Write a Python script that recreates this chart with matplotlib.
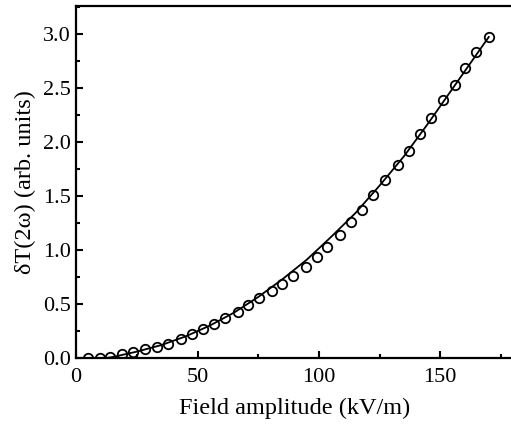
import numpy as np
import matplotlib.pyplot as plt
from matplotlib.ticker import MultipleLocator

# measured points
field = [5, 10, 14, 19, 23.3, 28.5, 33.2, 37.7, 43.3, 47.7, 52.1, 56.8, 61.5,
         66.5, 70.8, 75.3, 80.7, 85, 89.4, 94.5, 99.2, 103.4, 108.6, 113.3,
         117.8, 122.5, 127.3, 132.4, 137.2, 141.6, 146.2, 151.3, 156.1, 160.2,
         164.7, 170]
dT = [0.0, 0.0, 0.015, 0.04, 0.058, 0.08, 0.10, 0.13, 0.18, 0.22, 0.27, 0.32,
      0.37, 0.43, 0.49, 0.555, 0.62, 0.69, 0.76, 0.845, 0.935, 1.03, 1.135,
      1.255, 1.37, 1.51, 1.645, 1.79, 1.92, 2.07, 2.225, 2.39, 2.53, 2.68,
      2.83, 2.97]

# fitted curve
fit_x = [12, 15, 20, 25, 30, 35, 40, 45, 55, 65, 75, 85, 95, 105, 115, 125,
         135, 145, 155, 165, 170]
fit_y = [0.0, 0.01, 0.035, 0.06, 0.09, 0.12, 0.16, 0.20, 0.30, 0.42, 0.565,
         0.73, 0.91, 1.12, 1.34, 1.595, 1.865, 2.17, 2.49, 2.81, 2.97]

plt.rcParams['font.family'] = ['Liberation Serif', 'DejaVu Serif']

fig = plt.figure(figsize=(5.11, 4.32), dpi=100)
ax = fig.add_axes([0.149, 0.171, 0.855, 0.816])

ax.plot(fit_x, fit_y, color='black', lw=1.3)
ax.plot(field, dT, 'o', mfc='none', mec='black', ms=6.8, mew=1.3)

ax.set_xlim(0, 180)
ax.set_ylim(0, 3.26)
ax.xaxis.set_major_locator(MultipleLocator(50))
ax.xaxis.set_minor_locator(MultipleLocator(25))
ax.yaxis.set_major_locator(MultipleLocator(0.5))
ax.yaxis.set_minor_locator(MultipleLocator(0.25))
ax.yaxis.set_major_formatter(plt.FormatStrFormatter('%.1f'))
ax.tick_params(which='both', direction='in', width=1.5, labelsize=16)
ax.tick_params(which='major', length=5)
ax.tick_params(which='minor', length=3)
ax.tick_params(axis='x', pad=7)
ax.tick_params(axis='y', pad=4)
for s in ax.spines.values():
    s.set_linewidth(1.6)
ax.spines['right'].set_visible(False)

ax.set_xlabel('Field amplitude (kV/m)', fontsize=17.5, labelpad=8)
ax.set_ylabel('δT(2ω) (arb. units)', fontsize=17.5, labelpad=5)

fig.savefig('out.png', dpi=100)
